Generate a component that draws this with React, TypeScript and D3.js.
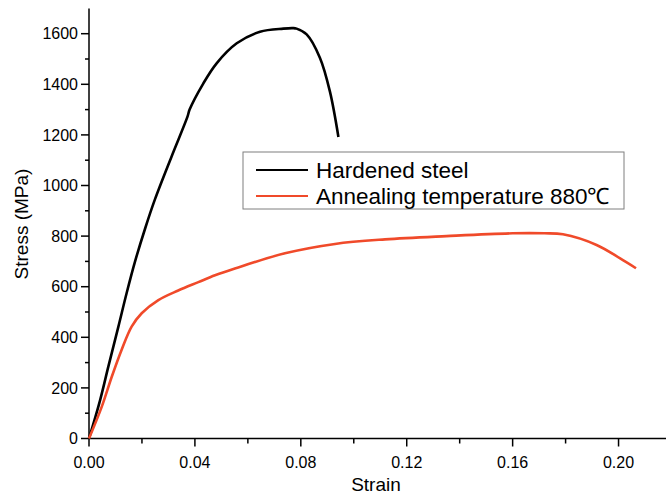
import * as d3 from 'd3';
import React, { useRef, useEffect } from 'react';

// hardened steel curve
const hardenedStrain = [0, 0.0042, 0.0073, 0.0111, 0.0142, 0.0174, 0.0212, 0.0249, 0.0312, 0.0372, 0.038, 0.0432, 0.0482, 0.0558, 0.0646, 0.0734, 0.077, 0.0784, 0.0822, 0.0872, 0.091, 0.0942];
const hardenedStress = [0, 152, 284, 442, 574, 700, 830, 945, 1115, 1272, 1300, 1404, 1483, 1562, 1608, 1620, 1622, 1620, 1597, 1505, 1371, 1192];

// annealed at 880C
const annealStrain = [0, 0.0048, 0.0086, 0.0123, 0.0161, 0.0199, 0.0262, 0.0337, 0.0413, 0.0476, 0.0551, 0.074, 0.0929, 0.1118, 0.135, 0.16, 0.172, 0.179, 0.1917, 0.2006, 0.2066];
const annealStress = [0, 125, 244, 350, 442, 495, 547, 585, 618, 645, 672, 732, 769, 787, 800, 811, 811, 807, 765, 712, 673];

const xTicks = [0, 0.04, 0.08, 0.12, 0.16, 0.2];
const yTicks = [0, 200, 400, 600, 800, 1000, 1200, 1400, 1600];
const seriesNames = ['Hardened steel', 'Annealing temperature 880\u2103'];
const seriesColors = ['#000000', '#f04a2a'];

const W = 666;
const H = 496;
const font = 'Arial, "Liberation Sans", sans-serif';

function StressChart() {
    const ref = useRef(null);

    useEffect(() => {
        const svg = d3.select(ref.current);
        svg.selectAll('*').remove();

        const x = d3.scaleLinear().domain([0, 0.22]).range([89, 671.5]);
        const y = d3.scaleLinear().domain([0, 1700]).range([438.5, 8.4]);

        // Y axis
        const yAxis = svg.append('g').attr('transform', `translate(${x(0)},0)`);
        yAxis.append('line')
            .attr('x1', 0).attr('x2', 0)
            .attr('y1', y(0)).attr('y2', y(1700))
            .attr('stroke', '#000').attr('stroke-width', 1.5);
        yAxis.selectAll('.minor')
            .data(d3.range(100, 1700, 200))
            .join('line')
            .attr('x1', 0).attr('x2', -4)
            .attr('y1', d => y(d)).attr('y2', d => y(d))
            .attr('stroke', '#000').attr('stroke-width', 1.5);
        yAxis.selectAll('.major')
            .data(yTicks)
            .join('line')
            .attr('x1', 0).attr('x2', -8)
            .attr('y1', d => y(d)).attr('y2', d => y(d))
            .attr('stroke', '#000').attr('stroke-width', 1.5);
        yAxis.selectAll('text')
            .data(yTicks)
            .join('text')
            .attr('x', -11)
            .attr('y', d => y(d))
            .attr('dy', '0.35em')
            .attr('text-anchor', 'end')
            .style('font', `16px ${font}`)
            .text(d => d);

        // X axis
        const xAxis = svg.append('g').attr('transform', `translate(0,${y(0)})`);
        xAxis.append('line')
            .attr('x1', x(0)).attr('x2', W)
            .attr('y1', 0).attr('y2', 0)
            .attr('stroke', '#000').attr('stroke-width', 1.5);
        xAxis.selectAll('.minor')
            .data([0.02, 0.06, 0.1, 0.14, 0.18])
            .join('line')
            .attr('x1', d => x(d)).attr('x2', d => x(d))
            .attr('y1', 0).attr('y2', 5)
            .attr('stroke', '#000').attr('stroke-width', 1.5);
        xAxis.selectAll('.major')
            .data(xTicks)
            .join('line')
            .attr('x1', d => x(d)).attr('x2', d => x(d))
            .attr('y1', 0).attr('y2', 8)
            .attr('stroke', '#000').attr('stroke-width', 1.5);
        xAxis.selectAll('text')
            .data(xTicks)
            .join('text')
            .attr('x', d => x(d))
            .attr('y', 29)
            .attr('text-anchor', 'middle')
            .style('font', `16px ${font}`)
            .text(d => d3.format('.2f')(d));

        // titles
        svg.append('text')
            .attr('x', 376).attr('y', 491)
            .attr('text-anchor', 'middle')
            .style('font', `19px ${font}`)
            .text('Strain');
        svg.append('text')
            .attr('transform', 'translate(28,224) rotate(-90)')
            .attr('text-anchor', 'middle')
            .style('font', `19px ${font}`)
            .text('Stress (MPa)');

        // curves
        const line = d3.line<[number, number]>()
            .x(d => x(d[0]))
            .y(d => y(d[1]))
            .curve(d3.curveCatmullRom.alpha(0.5));

        const series = [
            d3.zip(hardenedStrain, hardenedStress),
            d3.zip(annealStrain, annealStress),
        ];
        svg.selectAll('.curve')
            .data(series)
            .join('path')
            .attr('class', 'curve')
            .attr('d', d => line(d as [number, number][]))
            .attr('fill', 'none')
            .attr('stroke', (d, i) => seriesColors[i])
            .attr('stroke-width', 2.6)
            .attr('stroke-linejoin', 'round');

        // legend
        const lg = svg.append('g');
        lg.append('rect')
            .attr('x', 243).attr('y', 152)
            .attr('width', 381).attr('height', 57)
            .attr('fill', '#fff')
            .attr('stroke', '#7f7f7f').attr('stroke-width', 1);
        seriesNames.forEach((name, i) => {
            const ly = 170 + i * 26;
            lg.append('line')
                .attr('x1', 256).attr('x2', 308)
                .attr('y1', ly).attr('y2', ly)
                .attr('stroke', seriesColors[i]).attr('stroke-width', 2.2);
            lg.append('text')
                .attr('x', 316).attr('y', ly)
                .attr('dy', '0.36em')
                .style('font', `22.5px ${font}`)
                .text(name);
        });
    }, []);

    return (
        <svg ref={ref} width={W} height={H}
            style={{ position: 'absolute', left: 0, top: 0, background: '#fff' }}>
        </svg>
    );
}

export default function App() {
    return <StressChart />;
}
